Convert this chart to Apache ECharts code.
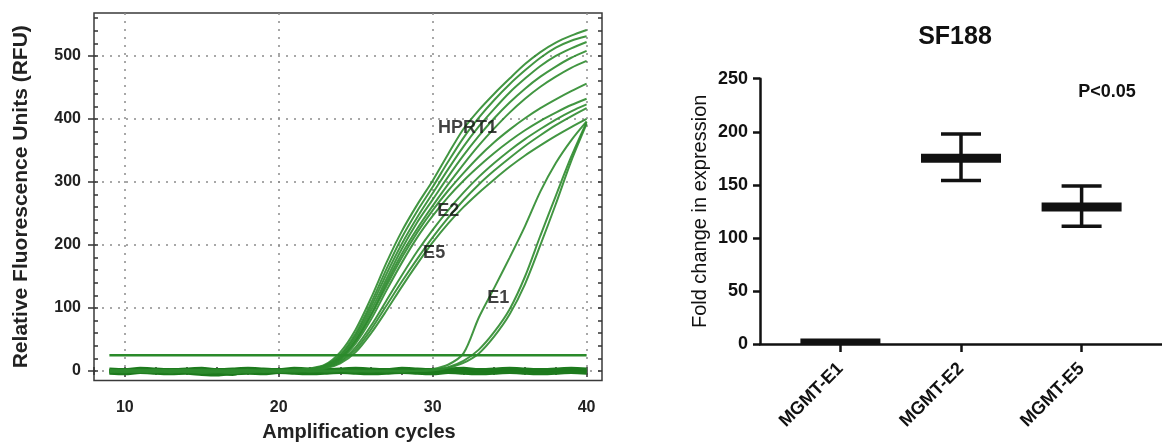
<!DOCTYPE html>
<html>
<head>
<meta charset="utf-8">
<script src="https://cdn.jsdelivr.net/npm/echarts@6/dist/echarts.min.js"></script>
<style>
  html, body { margin: 0; padding: 0; background: #fff; }
  #main { width: 1162px; height: 448px; }
</style>
</head>
<body>
<div id="main"></div>
<script>
// left panel: qPCR amplification curves (RFU per cycle, cycles 9..40)
const cycles = [9,10,11,12,13,14,15,16,17,18,19,20,21,22,23,24,25,26,27,28,29,30,31,32,33,34,35,36,37,38,39,40];

const hprt1Curves = [
  [1,-2,0,2,-1,1,-3,-2,0,1,0,1,2,4,10,30,66,116,172,222,264,302,344,384,414,440,464,487,506,521,532,541],
  [0,1,-1,-2,1,0,2,-1,-3,0,1,0,1,3,9,26,60,108,162,212,254,292,332,370,402,430,455,477,497,513,524,531],
  [-1,0,2,1,-2,-1,0,1,-1,-2,0,1,1,3,8,24,56,102,154,202,244,282,320,356,388,416,442,464,484,500,512,522],
  [2,0,-1,0,1,-2,-1,0,2,1,-1,0,1,2,8,22,52,96,146,194,236,272,308,342,373,401,426,448,467,483,497,508],
  [0,-1,1,2,0,-1,-2,1,0,-1,1,0,0,2,7,20,48,90,140,186,226,262,296,328,358,385,410,432,451,467,481,492]
];
const e2Curves = [
  [1,0,-2,-1,1,2,0,-2,-1,0,1,1,1,2,7,20,48,88,135,180,220,255,286,314,340,363,383,401,417,431,444,456],
  [-2,1,0,-1,0,1,-1,0,1,-2,0,0,1,2,6,18,44,82,128,172,212,246,276,302,325,346,365,382,397,410,422,432]
];
const e5Curves = [
  [0,2,1,-1,-2,0,1,-1,0,2,-1,0,0,2,6,16,38,72,112,152,190,224,255,283,308,330,350,368,384,399,412,423],
  [1,-1,0,1,2,-1,0,2,-2,-1,0,1,0,1,5,14,34,66,104,142,178,212,243,271,296,318,338,357,374,390,404,417],
  [-1,0,1,0,-1,1,2,0,-1,1,0,-1,0,1,4,12,30,60,96,134,170,204,234,260,283,304,324,342,358,373,387,400]
];
const e1Curves = [
  [0,-1,1,0,-2,0,1,-1,-3,0,1,-1,0,1,-1,0,1,0,-1,1,0,3,10,28,85,132,180,230,285,330,366,396],
  [1,0,-1,2,0,-1,-2,0,1,-1,0,1,-1,0,1,0,-1,1,0,-1,1,2,6,16,34,62,98,150,215,278,340,395],
  [-1,1,0,-1,1,2,0,-1,0,1,-1,0,1,-1,0,1,0,-1,1,0,0,1,5,13,28,55,90,138,200,265,333,392]
];
const baselineCurves = [
  [1,-2,0,2,-1,1,-3,-2,-5,1,-2,0,2,-1,0,1,-2,1,0,-1,2,0,-1,1,0,-2,1,0,-1,2,0,1],
  [-2,1,-1,0,2,-1,0,1,-2,-1,1,0,-1,2,1,-1,0,-2,1,0,-1,2,0,-1,1,0,-1,1,2,-1,0,-1],
  [3,2,4,3,2,3,4,2,3,4,3,2,4,3,2,3,4,3,2,4,3,2,3,4,2,3,4,3,2,3,4,3],
  [-3,-4,-2,-3,-4,-3,-5,-6,-4,-3,-4,-2,-3,-4,-3,-2,-3,-4,-3,-2,-3,-4,-2,-3,-4,-3,-2,-3,-4,-3,-2,-3]
];
const threshold = 25;

const curveLabels = ['HPRT1', 'E2', 'E5', 'E1'];
const curveLabelX = [30.35, 30.29, 29.38, 33.54];
const curveLabelY = [386, 254, 187, 116];

const xTicks = [10, 20, 30, 40];
const yTicks = [0, 100, 200, 300, 400, 500];

// right panel: SF188 fold change
const groups = ['MGMT-E1', 'MGMT-E2', 'MGMT-E5'];
const foldMean = [1, 175, 129];
const foldLow = [0.5, 154, 111];
const foldHigh = [1.5, 198, 149];

const FONT = '"Liberation Sans", Arial, sans-serif';

let minorX = [];
for (let c = 8; c <= 40; c += 2) minorX.push(c);
let minorY = [];
for (let v = 0; v <= 560; v += 20) minorY.push(v);

const chart = echarts.init(document.getElementById('main'));

const greenLine = { color: '#2e8b2e', width: 2, opacity: 0.9 };

function curve(vals, style) {
  return {
    type: 'line',
    xAxisIndex: 0,
    yAxisIndex: 0,
    data: vals.map((v, i) => [cycles[i], v]),
    smooth: 0.3,
    symbol: 'none',
    silent: true,
    lineStyle: style,
    z: 3
  };
}

const series = [];
baselineCurves.forEach(vals => series.push(curve(vals, { color: '#1d7a1d', width: 3.5 })));
[].concat(hprt1Curves, e2Curves, e5Curves, e1Curves).forEach(vals => series.push(curve(vals, greenLine)));

series.push({
  type: 'line',
  xAxisIndex: 0,
  yAxisIndex: 0,
  data: [[cycles[0], threshold], [cycles[cycles.length - 1], threshold]],
  symbol: 'none',
  silent: true,
  lineStyle: { color: '#2a8a2a', width: 2.5 },
  z: 4
});

series.push({
  type: 'scatter',
  xAxisIndex: 0,
  yAxisIndex: 0,
  symbolSize: 0,
  silent: true,
  data: curveLabels.map((t, i) => [curveLabelX[i], curveLabelY[i], t]),
  label: {
    show: true,
    position: 'right',
    distance: 0,
    formatter: p => p.value[2],
    fontFamily: FONT,
    fontSize: 18,
    fontWeight: 'bold',
    color: '#111'
  },
  z: 10
});

series.push({
  type: 'custom',
  xAxisIndex: 3,
  yAxisIndex: 3,
  clip: true,
  silent: true,
  data: groups.map((g, i) => [i + 1, foldMean[i], foldLow[i], foldHigh[i]]),
  renderItem: function (params, api) {
    const x = api.value(0);
    const pm = api.coord([x, api.value(1)]);
    const pl = api.coord([x, api.value(2)]);
    const ph = api.coord([x, api.value(3)]);
    const st = { stroke: '#111', lineWidth: 3.5 };
    return {
      type: 'group',
      children: [
        { type: 'line', shape: { x1: pl[0], y1: pl[1], x2: ph[0], y2: ph[1] }, style: st },
        { type: 'line', shape: { x1: ph[0] - 20, y1: ph[1], x2: ph[0] + 20, y2: ph[1] }, style: st },
        { type: 'line', shape: { x1: pl[0] - 20, y1: pl[1], x2: pl[0] + 20, y2: pl[1] }, style: st },
        { type: 'rect', shape: { x: pm[0] - 40, y: pm[1] - 4.5, width: 80, height: 9 }, style: { fill: '#111' } }
      ]
    };
  }
});

const minorAxisX = (pos) => ({
  gridIndex: 0, type: 'value', min: 8, max: 41, position: pos,
  axisLine: { show: false },
  axisTick: { show: true, inside: true, length: 4, customValues: minorX, lineStyle: { color: '#333', width: 1.5 } },
  axisLabel: { show: false },
  splitLine: { show: false }
});
const minorAxisY = (pos) => ({
  gridIndex: 0, type: 'value', min: -15, max: 568, position: pos,
  axisLine: { show: false },
  axisTick: { show: true, inside: true, length: 4, customValues: minorY, lineStyle: { color: '#333', width: 1.5 } },
  axisLabel: { show: false },
  splitLine: { show: false }
});

chart.setOption({
  animation: false,
  backgroundColor: '#fff',
  textStyle: { fontFamily: FONT },
  grid: [
    { left: 94, right: 560, top: 13, bottom: 67.5, show: true, borderColor: '#3a3a3a', borderWidth: 1.5, containLabel: false },
    { left: 760, right: 0, top: 78.7, bottom: 104, containLabel: false }
  ],
  graphic: [
    { type: 'text', x: 955, y: 37, style: { text: 'SF188', fill: '#111', font: 'bold 25px "Liberation Sans", Arial, sans-serif', align: 'center', verticalAlign: 'middle' } },
    { type: 'text', x: 1107, y: 92, style: { text: 'P<0.05', fill: '#111', font: 'bold 18px "Liberation Sans", Arial, sans-serif', align: 'center', verticalAlign: 'middle' } }
  ],
  xAxis: [
    {
      gridIndex: 0, type: 'value', min: 8, max: 41, position: 'bottom',
      name: 'Amplification cycles', nameLocation: 'middle', nameGap: 42,
      nameTextStyle: { fontFamily: FONT, fontSize: 20, fontWeight: 'bold', color: '#222', padding: [0, 0, 0, 22] },
      axisLine: { show: false },
      axisTick: { show: true, length: 6, customValues: xTicks, lineStyle: { color: '#333', width: 1.5 } },
      axisLabel: { customValues: xTicks, margin: 19, fontFamily: FONT, fontSize: 16, fontWeight: 'bold', color: '#222' },
      splitLine: { show: true, lineStyle: { type: [2, 6], color: '#8c8c8c', width: 1.5 } }
    },
    minorAxisX('bottom'),
    minorAxisX('top'),
    {
      gridIndex: 1, type: 'value', min: 1 / 3, max: 11 / 3, position: 'bottom',
      axisLine: { show: true, lineStyle: { color: '#111', width: 2.5 } },
      axisTick: { show: true, length: 8, customValues: [1, 2, 3], lineStyle: { color: '#111', width: 2.5 } },
      axisLabel: {
        customValues: [1, 2, 3], rotate: 45, margin: 22,
        formatter: v => groups[Math.round(v) - 1],
        fontFamily: FONT, fontSize: 18, fontWeight: 'bold', color: '#111'
      },
      splitLine: { show: false }
    }
  ],
  yAxis: [
    {
      gridIndex: 0, type: 'value', min: -15, max: 568, position: 'left',
      name: 'Relative Fluorescence Units (RFU)', nameLocation: 'middle', nameGap: 62,
      nameTextStyle: { fontFamily: FONT, fontSize: 21, fontWeight: 'bold', color: '#222' },
      axisLine: { show: false },
      axisTick: { show: true, length: 6, customValues: yTicks, lineStyle: { color: '#333', width: 1.5 } },
      axisLabel: { customValues: yTicks, margin: 13, fontFamily: FONT, fontSize: 16, fontWeight: 'bold', color: '#222' },
      splitLine: { show: true, lineStyle: { type: [2, 6], color: '#8c8c8c', width: 1.5 } }
    },
    minorAxisY('left'),
    minorAxisY('right'),
    {
      gridIndex: 1, type: 'value', min: 0, max: 250, interval: 50, position: 'left',
      name: 'Fold change in expression', nameLocation: 'middle', nameGap: 50,
      nameTextStyle: { fontFamily: FONT, fontSize: 20, color: '#111' },
      axisLine: { show: true, lineStyle: { color: '#111', width: 2.5 } },
      axisTick: { show: true, length: 7, lineStyle: { color: '#111', width: 2.5 } },
      axisLabel: { margin: 12, fontFamily: FONT, fontSize: 18, fontWeight: 'bold', color: '#111' },
      splitLine: { show: false }
    }
  ],
  series: series
});
</script>
</body>
</html>
